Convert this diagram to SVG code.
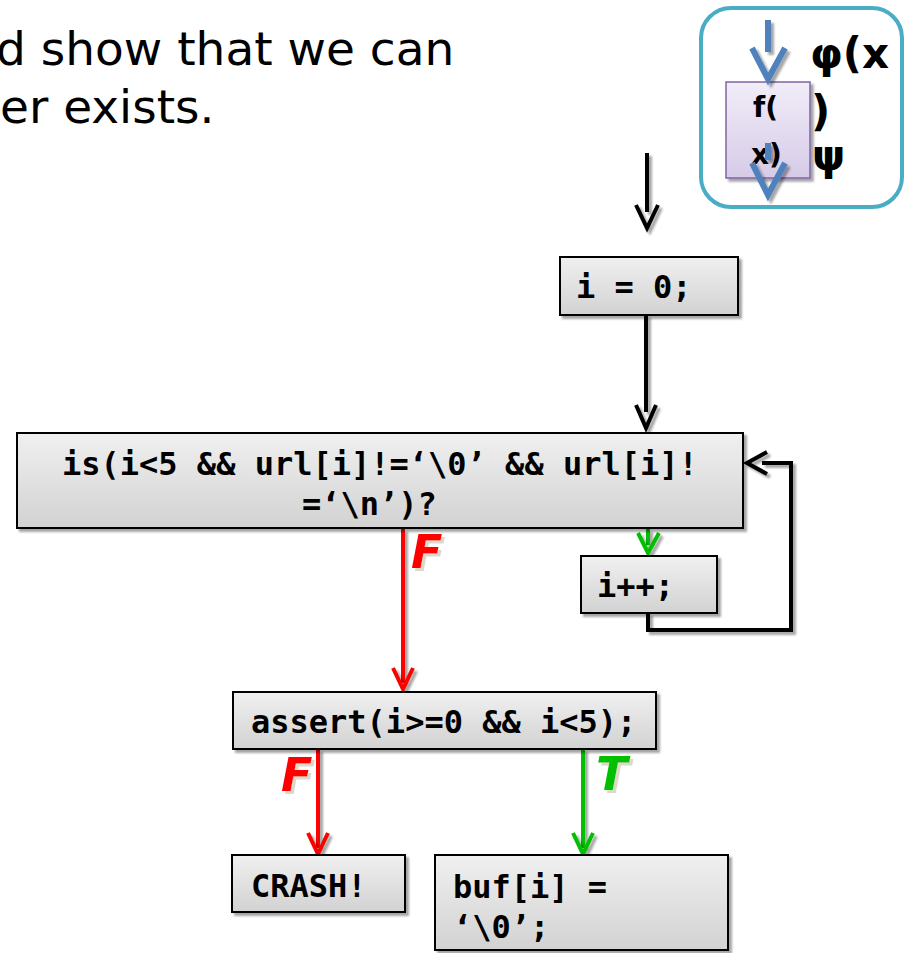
<svg xmlns="http://www.w3.org/2000/svg" width="908" height="953" viewBox="0 0 908 953">
<defs>
<linearGradient id="gBox" x1="0" y1="0" x2="0" y2="1"><stop offset="0" stop-color="#f0f0f0"/><stop offset="1" stop-color="#d2d2d2"/></linearGradient>
<linearGradient id="gPur" x1="0" y1="0" x2="0" y2="1"><stop offset="0" stop-color="#f1edf8"/><stop offset="1" stop-color="#d6cbe8"/></linearGradient>
<filter id="sh" filterUnits="userSpaceOnUse" x="0" y="0" width="908" height="953"><feDropShadow dx="3" dy="3" stdDeviation="0.8" flood-color="#000" flood-opacity="0.35"/></filter>
<filter id="tsh" filterUnits="userSpaceOnUse" x="0" y="0" width="908" height="953"><feDropShadow dx="3" dy="3" stdDeviation="0.6" flood-color="#b8b09a" flood-opacity="0.5"/></filter>
</defs>
<style>
.box{fill:url(#gBox);stroke:#000;stroke-width:2;filter:url(#sh)}
.code{font-family:"DejaVu Sans Mono","Liberation Mono",monospace;font-weight:bold;font-size:32px;fill:#000}
.ln{fill:none;stroke-width:4;filter:url(#sh)}
.k{stroke:#000}
.r{stroke:#ff0000}
.g{stroke:#00c000}
.b{stroke:#4f81bd;stroke-width:6}
.lab{font-family:"DejaVu Sans",sans-serif;font-weight:bold;font-style:italic;font-size:46px;filter:url(#tsh)}
.title{font-family:"DejaVu Sans",sans-serif;font-size:47px;fill:#000}
.sym{font-family:"DejaVu Sans",sans-serif;font-weight:bold;fill:#000}
</style>
<rect width="908" height="953" fill="#fff"/>
<g id="title">
<text class="title" x="-4" y="65">d show that we can</text>
<text class="title" x="0" y="123">er exists.</text>
</g>
<g id="legend">
<rect x="701" y="8" width="201" height="199" rx="30" fill="#fff" stroke="#4bacc6" stroke-width="4"/>
<rect x="726" y="82" width="84" height="96" fill="url(#gPur)" stroke="#8064a2" stroke-width="1.5" filter="url(#sh)"/>
<text class="sym" x="753" y="117" font-size="28">f(</text>
<text class="sym" x="751" y="164" font-size="28">x)</text>
<text class="sym" x="810" y="68" font-size="42">φ(x</text>
<text class="sym" x="811" y="126" font-size="42">)</text>
<text class="sym" x="812" y="170" font-size="42">ψ</text>
<line class="ln b" x1="768" y1="20" x2="768" y2="52"/>
<polyline class="ln b" points="752,48 768,79 785,48"/>
<line class="ln b" x1="768" y1="143" x2="768" y2="160"/>
<polyline class="ln b" points="752,163 768,195 785,163"/>
</g>
<g id="connectors">
<line class="ln k" x1="647" y1="153" x2="647" y2="212"/>
<polyline class="ln k" points="636,205 647,228 658,205"/>
<line class="ln k" x1="646" y1="315" x2="646" y2="412"/>
<polyline class="ln k" points="636,405 646,428 656,405"/>
<line class="ln g" x1="648" y1="529" x2="648" y2="545"/>
<polyline class="ln g" points="638,533 648,553 659,533"/>
<polyline class="ln k" stroke-width="6" points="648,613 648,630 791,630 791,463 762,463"/>
<polyline class="ln k" stroke-width="5" points="767,452 747,463 767,474"/>
<line class="ln r" x1="403" y1="529" x2="403" y2="683"/>
<polyline class="ln r" points="393,668 403,689 413,668"/>
<line class="ln r" x1="318" y1="749" x2="318" y2="848"/>
<polyline class="ln r" points="308,833 318,854 328,833"/>
<line class="ln g" x1="583" y1="749" x2="583" y2="848"/>
<polyline class="ln g" points="573,833 583,854 593,833"/>
<text class="lab" x="411" y="568" fill="#ff0000">F</text>
<text class="lab" x="281" y="791" fill="#ff0000">F</text>
<text class="lab" x="596" y="790" fill="#00c000">T</text>
</g>
<g id="n-init">
<rect class="box" x="560" y="257" width="178" height="58"/>
<text class="code" x="576" y="298" font-size="33">i = 0;</text>
</g>
<g id="n-cond">
<rect class="box" x="17" y="433" width="726" height="95"/>
<text class="code" x="62" y="475">is(i&lt;5 &amp;&amp; url[i]!=‘\0’ &amp;&amp; url[i]!</text>
<text class="code" x="302" y="515">=‘\n’)?</text>
</g>
<g id="n-inc">
<rect class="box" x="581" y="556" width="136" height="57"/>
<text class="code" x="597" y="597">i++;</text>
</g>
<g id="n-assert">
<rect class="box" x="233" y="692" width="423" height="57"/>
<text class="code" x="251" y="733">assert(i&gt;=0 &amp;&amp; i&lt;5);</text>
</g>
<g id="n-crash">
<rect class="box" x="232" y="855" width="173" height="57"/>
<text class="code" x="251" y="897">CRASH!</text>
</g>
<g id="n-buf">
<rect class="box" x="435" y="855" width="293" height="95"/>
<text class="code" x="453" y="898">buf[i] =</text>
<text class="code" x="453" y="938">‘\0’;</text>
</g>
</svg>
